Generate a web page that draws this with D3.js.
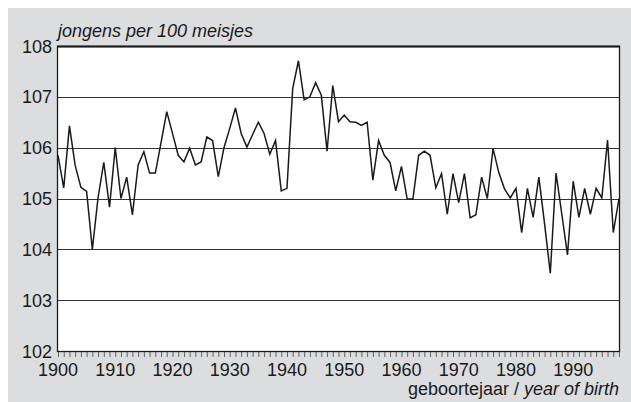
<!DOCTYPE html>
<html>
<head>
<meta charset="utf-8">
<script src="https://d3js.org/d3.v7.min.js"></script>
<style>
  body { margin: 0; background: #fff; }
  svg { display: block; }
</style>
</head>
<body>
<div id="chart"></div>
<script>
// ========================================
// ===== Sex ratio at birth 1900-1998 =====
// ========================================

var years = d3.range(1900, 1999);

// boys per 100 girls
var ratio = [
  105.85, 105.21, 106.43, 105.65, 105.22, 105.14, 104.00, 105.02, 105.71, 104.83,
  106.00, 105.00, 105.42, 104.68, 105.66, 105.92, 105.50, 105.50, 106.10, 106.71,
  106.28, 105.85, 105.72, 105.99, 105.66, 105.72, 106.21, 106.14, 105.43, 106.00,
  106.38, 106.78, 106.28, 106.01, 106.26, 106.50, 106.28, 105.87, 106.14, 105.15,
  105.20, 107.16, 107.71, 106.94, 107.00, 107.28, 107.03, 105.93, 107.22, 106.51,
  106.64, 106.51, 106.50, 106.44, 106.50, 105.36, 106.14, 105.85, 105.71, 105.15,
  105.63, 104.99, 104.99, 105.85, 105.93, 105.85, 105.21, 105.49, 104.69, 105.49,
  104.92, 105.49, 104.62, 104.68, 105.42, 105.00, 105.98, 105.51, 105.19, 105.01,
  105.20, 104.33, 105.20, 104.63, 105.42, 104.50, 103.53, 105.50, 104.70, 103.89,
  105.34, 104.63, 105.20, 104.69, 105.20, 105.01, 106.15, 104.33, 105.00
];

var yTicks = [102, 103, 104, 105, 106, 107, 108];
var xLabels = [1900, 1910, 1920, 1930, 1940, 1950, 1960, 1970, 1980, 1990];

var yTitle = "jongens per 100 meisjes";
var xTitleNl = "geboortejaar / ";
var xTitleEn = "year of birth";

var W = 631, H = 402;
var plot = {left: 57, right: 619, top: 46, bottom: 351};
var font = "'Liberation Sans', Arial, Helvetica, sans-serif";

var svg = d3.select("#chart").append("svg")
    .attr("width", W)
    .attr("height", H);

// grey frame
svg.append("rect")
    .attr("x", 8).attr("y", 8)
    .attr("width", W - 8).attr("height", H - 8)
    .attr("fill", "#dcdddf");

// white plot area
svg.append("rect")
    .attr("x", plot.left).attr("y", plot.top)
    .attr("width", plot.right - plot.left)
    .attr("height", plot.bottom - plot.top)
    .attr("fill", "#fff");

var x = d3.scaleLinear()
    .domain([1900, 1998])
    .range([plot.left + 1, plot.right]);

var y = d3.scaleLinear()
    .domain([102, 108])
    .range([plot.bottom, plot.top]);

// horizontal grid lines
svg.append("g")
    .selectAll("line")
    .data(yTicks.slice(1, -1))
    .enter().append("line")
    .attr("x1", plot.left).attr("x2", plot.right)
    .attr("y1", function(d) { return Math.round(y(d)) + 0.5; })
    .attr("y2", function(d) { return Math.round(y(d)) + 0.5; })
    .attr("stroke", "#333")
    .attr("stroke-width", 1);

// y tick labels
svg.append("g")
    .selectAll("text")
    .data(yTicks)
    .enter().append("text")
    .attr("x", plot.left - 5)
    .attr("y", function(d) { return y(d) + 6.5; })
    .attr("text-anchor", "end")
    .attr("font-family", font)
    .attr("font-size", "18px")
    .attr("fill", "#1a1a1a")
    .text(function(d) { return d; });

// x axis: a tick for every year, labels every 10 years
var xAxis = svg.append("g")
    .attr("transform", "translate(0," + plot.bottom + ")")
    .call(d3.axisBottom(x)
        .tickValues(years)
        .tickSize(6)
        .tickFormat(""));
xAxis.select(".domain").remove();
xAxis.selectAll(".tick line")
    .attr("stroke", "#444")
    .attr("stroke-width", 0.8);

svg.append("g")
    .selectAll("text")
    .data(xLabels)
    .enter().append("text")
    .attr("x", function(d) { return x(d); })
    .attr("y", 376)
    .attr("text-anchor", "middle")
    .attr("font-family", font)
    .attr("font-size", "18px")
    .attr("fill", "#1a1a1a")
    .text(function(d) { return d; });

// the series
var line = d3.line()
    .x(function(d, i) { return x(years[i]); })
    .y(function(d) { return y(d); });

svg.append("path")
    .datum(ratio)
    .attr("d", line)
    .attr("fill", "none")
    .attr("stroke", "#1a1a1a")
    .attr("stroke-width", 1.5)
    .attr("stroke-linejoin", "miter");

// plot border (top is heavier)
svg.append("rect")
    .attr("x", plot.left + 0.5).attr("y", plot.top + 0.5)
    .attr("width", plot.right - plot.left)
    .attr("height", plot.bottom - plot.top)
    .attr("fill", "none")
    .attr("stroke", "#1a1a1a")
    .attr("stroke-width", 1.3);
svg.append("line")
    .attr("x1", plot.left).attr("x2", plot.right + 1)
    .attr("y1", plot.top + 0.5).attr("y2", plot.top + 0.5)
    .attr("stroke", "#1a1a1a")
    .attr("stroke-width", 2);

// titles
svg.append("text")
    .attr("x", plot.left + 1)
    .attr("y", 37)
    .attr("font-family", font)
    .attr("font-size", "18px")
    .attr("font-style", "italic")
    .attr("fill", "#1a1a1a")
    .text(yTitle);

var xt = svg.append("text")
    .attr("x", plot.right)
    .attr("y", 395)
    .attr("text-anchor", "end")
    .attr("font-family", font)
    .attr("font-size", "18px")
    .attr("fill", "#1a1a1a");
xt.append("tspan").text(xTitleNl);
xt.append("tspan").attr("font-style", "italic").text(xTitleEn);
</script>
</body>
</html>
